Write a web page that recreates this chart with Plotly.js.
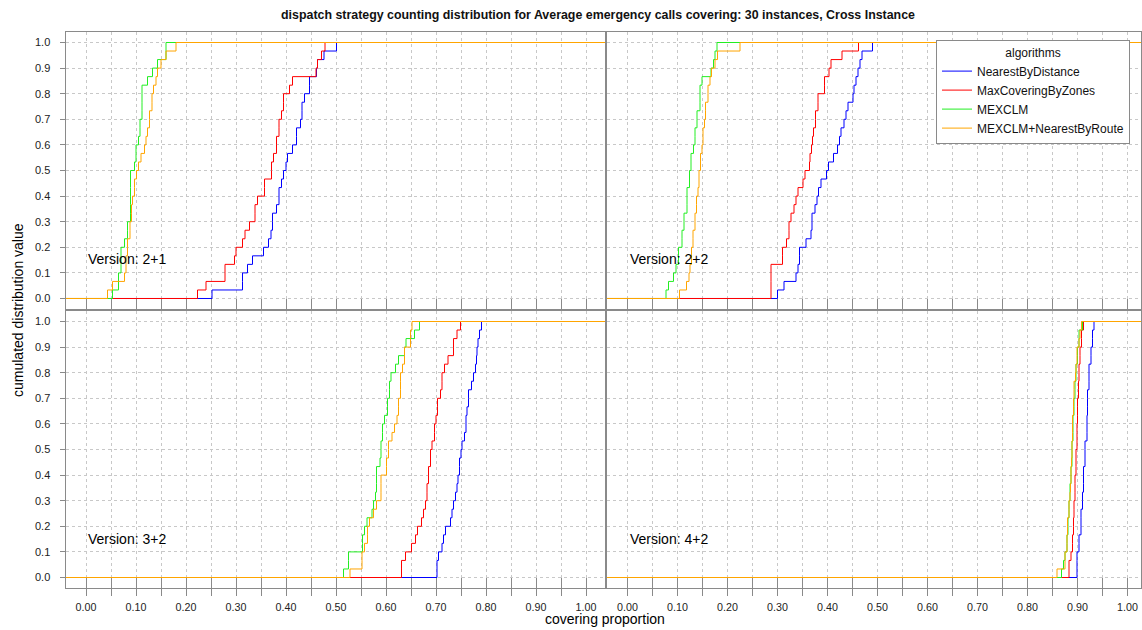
<!DOCTYPE html>
<html>
<head>
<meta charset="utf-8">
<script src="https://cdn.plot.ly/plotly-3.0.1.min.js"></script>
<style>
html,body{margin:0;padding:0;background:#fff;}
#chart{width:1142px;height:630px;}
</style>
</head>
<body>
<div id="chart"></div>
<script>
// ---- data (sorted covering proportions, 30 instances each) ----
const algorithms = ["NearestByDistance", "MaxCoveringByZones", "MEXCLM", "MEXCLM+NearestByRoute"];
const versions = ["Version: 2+1", "Version: 2+2", "Version: 3+2", "Version: 4+2"];

const v21_NearestByDistance = [0.252,0.313,0.313,0.323,0.333,0.355,0.365,0.370,0.373,0.373,0.381,0.386,0.386,0.391,0.395,0.400,0.403,0.413,0.421,0.421,0.429,0.432,0.432,0.437,0.447,0.447,0.461,0.463,0.476,0.501];
const v21_MaxCoveringByZones = [0.223,0.240,0.278,0.278,0.297,0.300,0.313,0.318,0.327,0.338,0.338,0.343,0.357,0.357,0.371,0.371,0.375,0.381,0.381,0.386,0.386,0.391,0.395,0.395,0.407,0.413,0.460,0.463,0.471,0.478];
const v21_MEXCLM = [0.053,0.065,0.065,0.070,0.070,0.070,0.077,0.083,0.083,0.089,0.089,0.089,0.089,0.089,0.089,0.097,0.100,0.100,0.105,0.108,0.108,0.112,0.112,0.112,0.112,0.123,0.133,0.143,0.160,0.160];
const v21_MEXCLM_NearestByRoute = [0.043,0.053,0.077,0.080,0.080,0.083,0.083,0.088,0.088,0.091,0.091,0.093,0.097,0.097,0.101,0.105,0.110,0.117,0.120,0.123,0.127,0.127,0.132,0.132,0.135,0.140,0.143,0.150,0.160,0.180];

const v22_NearestByDistance = [0.300,0.313,0.337,0.341,0.344,0.344,0.357,0.367,0.369,0.369,0.375,0.379,0.382,0.387,0.398,0.402,0.412,0.420,0.424,0.427,0.433,0.437,0.441,0.451,0.453,0.457,0.461,0.465,0.469,0.490];
const v22_MaxCoveringByZones = [0.287,0.287,0.287,0.287,0.310,0.310,0.318,0.323,0.323,0.327,0.333,0.337,0.341,0.351,0.355,0.364,0.365,0.368,0.370,0.372,0.376,0.376,0.381,0.381,0.394,0.394,0.403,0.407,0.429,0.462];
const v22_MEXCLM = [0.077,0.082,0.092,0.097,0.102,0.102,0.109,0.109,0.113,0.113,0.119,0.119,0.119,0.124,0.124,0.127,0.127,0.132,0.135,0.135,0.139,0.139,0.145,0.145,0.145,0.149,0.167,0.172,0.175,0.179];
const v22_MEXCLM_NearestByRoute = [0.104,0.118,0.123,0.125,0.128,0.128,0.131,0.131,0.135,0.135,0.138,0.138,0.141,0.143,0.143,0.146,0.146,0.149,0.151,0.151,0.154,0.156,0.156,0.161,0.161,0.165,0.168,0.175,0.180,0.225];

const v32_NearestByDistance = [0.702,0.702,0.705,0.712,0.715,0.719,0.729,0.732,0.735,0.739,0.742,0.744,0.747,0.747,0.750,0.752,0.757,0.760,0.760,0.762,0.765,0.765,0.771,0.775,0.779,0.781,0.782,0.784,0.787,0.791];
const v32_MaxCoveringByZones = [0.631,0.631,0.639,0.651,0.659,0.663,0.671,0.675,0.679,0.682,0.682,0.685,0.685,0.689,0.689,0.692,0.697,0.697,0.700,0.703,0.703,0.709,0.712,0.712,0.717,0.724,0.735,0.735,0.742,0.749];
const v32_MEXCLM = [0.515,0.525,0.525,0.553,0.553,0.557,0.562,0.572,0.575,0.579,0.581,0.581,0.581,0.588,0.590,0.590,0.593,0.593,0.597,0.603,0.603,0.607,0.607,0.610,0.619,0.625,0.637,0.640,0.657,0.667];
const v32_MEXCLM_NearestByRoute = [0.528,0.552,0.552,0.557,0.563,0.563,0.567,0.575,0.581,0.590,0.590,0.590,0.601,0.601,0.605,0.605,0.612,0.617,0.622,0.625,0.625,0.629,0.629,0.629,0.633,0.637,0.637,0.649,0.649,0.652];

const v42_NearestByDistance = [0.899,0.899,0.899,0.903,0.903,0.907,0.907,0.907,0.910,0.910,0.912,0.912,0.912,0.915,0.915,0.915,0.919,0.919,0.919,0.920,0.920,0.920,0.923,0.923,0.923,0.927,0.927,0.930,0.930,0.933];
const v42_MaxCoveringByZones = [0.883,0.883,0.887,0.890,0.890,0.892,0.892,0.893,0.893,0.895,0.895,0.895,0.897,0.897,0.897,0.899,0.899,0.899,0.900,0.900,0.900,0.902,0.902,0.903,0.903,0.905,0.905,0.908,0.908,0.912];
const v42_MEXCLM = [0.868,0.872,0.875,0.879,0.879,0.881,0.881,0.883,0.883,0.885,0.885,0.887,0.887,0.889,0.889,0.889,0.891,0.891,0.891,0.893,0.893,0.895,0.895,0.897,0.897,0.900,0.900,0.903,0.903,0.910];
const v42_MEXCLM_NearestByRoute = [0.859,0.875,0.875,0.879,0.879,0.880,0.880,0.883,0.883,0.885,0.886,0.887,0.887,0.888,0.889,0.889,0.890,0.890,0.890,0.892,0.892,0.893,0.893,0.896,0.897,0.899,0.899,0.903,0.905,0.908];

const xTickVals = [0,0.05,0.1,0.15,0.2,0.25,0.3,0.35,0.4,0.45,0.5,0.55,0.6,0.65,0.7,0.75,0.8,0.85,0.9,0.95,1.0];
const xTickText = ["0.00","","0.10","","0.20","","0.30","","0.40","","0.50","","0.60","","0.70","","0.80","","0.90","","1.00"];
const yTickVals = [0,0.1,0.2,0.3,0.4,0.5,0.6,0.7,0.8,0.9,1.0];
const yTickText = ["0.0","0.1","0.2","0.3","0.4","0.5","0.6","0.7","0.8","0.9","1.0"];

// ---- build ----
const panelData = [
  [v21_NearestByDistance, v21_MaxCoveringByZones, v21_MEXCLM, v21_MEXCLM_NearestByRoute],
  [v22_NearestByDistance, v22_MaxCoveringByZones, v22_MEXCLM, v22_MEXCLM_NearestByRoute],
  [v32_NearestByDistance, v32_MaxCoveringByZones, v32_MEXCLM, v32_MEXCLM_NearestByRoute],
  [v42_NearestByDistance, v42_MaxCoveringByZones, v42_MEXCLM, v42_MEXCLM_NearestByRoute]
];
const colors = ["#0000FF", "#FF0000", "#22EE22", "#FFA500"];
const axSuffix = ["", "2", "3", "4"];

function ecdf(vals) {
  const s = vals.slice().sort((a, b) => a - b);
  const n = s.length;
  const xs = [-1], ys = [0];
  s.forEach((v, i) => { xs.push(v); ys.push((i + 1) / n); });
  xs.push(2); ys.push(1);
  return {x: xs, y: ys};
}

const traces = [];
panelData.forEach((series, p) => {
  series.forEach((vals, a) => {
    const e = ecdf(vals);
    traces.push({
      type: "scatter", mode: "lines",
      x: e.x, y: e.y,
      xaxis: "x" + axSuffix[p], yaxis: "y" + axSuffix[p],
      line: {shape: "hv", color: colors[a], width: 1},
      name: algorithms[a], legendgroup: "alg",
      showlegend: p === 0, hoverinfo: "skip"
    });
  });
});
// invisible traces so the overlay tick axes of the bottom panels exist
traces.push({type:"scatter", mode:"lines", x:[null], y:[null], xaxis:"x5", yaxis:"y3", showlegend:false, hoverinfo:"skip"});
traces.push({type:"scatter", mode:"lines", x:[null], y:[null], xaxis:"x6", yaxis:"y4", showlegend:false, hoverinfo:"skip"});

const W = 1142, H = 630;
const font = "Liberation Sans, Arial, sans-serif";
const frame = "#8a8a8a";
const grid = "#c8c8c8";
const tickCol = "#8a8a8a";
// panel placement in pixels (y=1 and y=0 put on pixel centres so 1px lines stay crisp)
const yRange = [-0.04, 1.04];
const pxPerUnit = 256;
function yDomain(y1px) {
  const top = y1px - pxPerUnit * (yRange[1] - 1);
  const bottom = y1px + pxPerUnit * (1 - yRange[0]);
  return [1 - bottom / H, 1 - top / H];
}
const dx = [[66/W, 605/W], [607/W, 1141/W]];
const dy = [yDomain(42.5), yDomain(321.5)];
const xr = [[-0.04, 1.038], [-0.041, 1.027]];

function xaxis(col, row, extra) {
  return Object.assign({
    domain: dx[col], range: xr[col], showgrid: true, gridcolor: grid, griddash: "dot", gridwidth: 1,
    zeroline: false, showline: true, mirror: true, linecolor: frame, linewidth: 1.5,
    tickmode: "array", tickvals: xTickVals, ticktext: xTickText,
    ticks: "inside", ticklen: 10, tickcolor: tickCol, tickwidth: 1,
    showticklabels: false, tickfont: {family: font, size: 11, color: "#222"}
  }, extra);
}
function yaxis(col, row, extra) {
  return Object.assign({
    domain: dy[row], range: yRange, showgrid: true, gridcolor: grid, griddash: "dot", gridwidth: 1,
    zeroline: false, showline: true, mirror: true, linecolor: frame, linewidth: 1.5,
    tickmode: "array", tickvals: yTickVals, ticktext: yTickText,
    ticks: col === 0 ? "outside" : "", ticklen: 5, tickcolor: tickCol, tickwidth: 1,
    showticklabels: col === 0, ticklabelstandoff: 7,
    tickfont: {family: font, size: 11, color: "#222"}
  }, extra);
}

const layout = {
  width: W, height: H,
  margin: {l: 0, r: 0, t: 0, b: 0},
  paper_bgcolor: "#fff", plot_bgcolor: "#fff",
  font: {family: font, color: "#111"},
  showlegend: true,
  title: {text: "dispatch strategy counting distribution for Average emergency calls covering: 30 instances, Cross Instance",
          x: 598/W, xanchor: "center", xref: "paper", y: 1 - 15/H, yanchor: "middle", yref: "paper",
          font: {family: font, size: 12.4, weight: "bold", color: "#111"}},
  xaxis: xaxis(0, 0, {anchor: "y"}),
  yaxis: yaxis(0, 0, {anchor: "x"}),
  xaxis2: xaxis(1, 0, {anchor: "y2"}),
  yaxis2: yaxis(1, 0, {anchor: "x2"}),
  xaxis3: xaxis(0, 1, {anchor: "y3", ticks: "outside", ticklen: 7, showticklabels: true, ticklabelstandoff: 2, tickfont: {family: font, size: 10.7, color: "#222"}}),
  yaxis3: yaxis(0, 1, {anchor: "x3"}),
  xaxis4: xaxis(1, 1, {anchor: "y4", ticks: "outside", ticklen: 7, showticklabels: true, ticklabelstandoff: 2, tickfont: {family: font, size: 10.7, color: "#222"}}),
  yaxis4: yaxis(1, 1, {anchor: "x4"}),
  xaxis5: xaxis(0, 1, {anchor: "y3", overlaying: "x3", showgrid: false, showline: false}),
  xaxis6: xaxis(1, 1, {anchor: "y4", overlaying: "x4", showgrid: false, showline: false}),
  legend: {
    x: 936/W, xanchor: "left", y: 1 - 40/H, yanchor: "top",
    bgcolor: "#fff", bordercolor: frame, borderwidth: 1,
    font: {family: font, size: 12, color: "#111"},
    title: {text: "algorithms", side: "top center", font: {family: font, size: 12, color: "#111"}},
    itemwidth: 30, tracegroupgap: 0
  },
  annotations: [
    {text: versions[0], xref: "x", yref: "y", x: 0.0, y: 0.153, xanchor: "left", yanchor: "middle", showarrow: false, font: {family: font, size: 14, color: "#000"}},
    {text: versions[1], xref: "x2", yref: "y2", x: 0.0, y: 0.153, xanchor: "left", yanchor: "middle", showarrow: false, font: {family: font, size: 14, color: "#000"}},
    {text: versions[2], xref: "x3", yref: "y3", x: 0.0, y: 0.15, xanchor: "left", yanchor: "middle", showarrow: false, font: {family: font, size: 14, color: "#000"}},
    {text: versions[3], xref: "x4", yref: "y4", x: 0.0, y: 0.15, xanchor: "left", yanchor: "middle", showarrow: false, font: {family: font, size: 14, color: "#000"}},
    {text: "cumulated distribution value", xref: "paper", yref: "paper", x: 18/W, y: 1 - 310/H, xanchor: "center", yanchor: "middle", textangle: -90, showarrow: false, font: {family: font, size: 14, color: "#000"}},
    {text: "covering proportion", xref: "paper", yref: "paper", x: 605/W, y: 1 - 619/H, xanchor: "center", yanchor: "middle", showarrow: false, font: {family: font, size: 14, color: "#000"}}
  ]
};

Plotly.newPlot("chart", traces, layout, {staticPlot: true, displayModeBar: false});
</script>
</body>
</html>
